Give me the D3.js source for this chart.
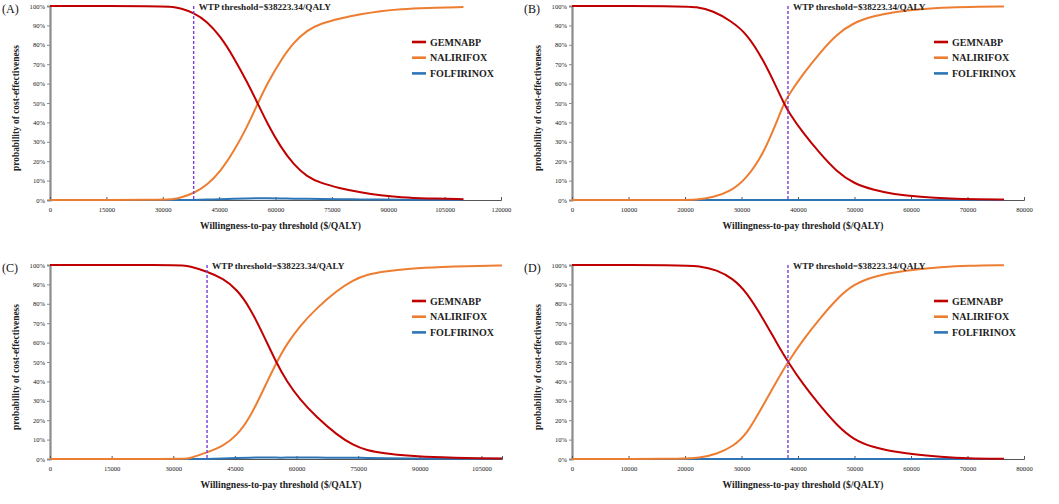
<!DOCTYPE html>
<html>
<head>
<meta charset="utf-8">
<script src="https://cdn.jsdelivr.net/npm/d3@7"></script>
<style>
body { margin: 0; background: #fff; }
svg { display: block; }
text { font-family: "Liberation Serif", "Times New Roman", serif; }
</style>
</head>
<body>
<svg id="chart" width="1059" height="504"></svg>
<script>
// Chart data
var wtp = 38223.34;
var seriesNames = ["GEMNABP", "NALIRIFOX", "FOLFIRINOX"];
var panelLabels = ["(A)", "(B)", "(C)", "(D)"];
var yTicks = [0, 10, 20, 30, 40, 50, 60, 70, 80, 90, 100];

var xTicksA = [0, 15000, 30000, 45000, 60000, 75000, 90000, 105000, 120000];
var xTicksB = [0, 10000, 20000, 30000, 40000, 50000, 60000, 70000, 80000];
var xTicksC = [0, 15000, 30000, 45000, 60000, 75000, 90000, 105000];
var xTicksD = [0, 10000, 20000, 30000, 40000, 50000, 60000, 70000, 80000];
var xMaxA = 120000, xMaxB = 80000, xMaxC = 110000, xMaxD = 80000;

// panel A
var wtpA = [0, 30000, 32900, 34700, 38222, 41800, 45300, 48900, 52400, 55100, 57800, 61300, 64900, 68400, 72000, 77300, 82700, 88000, 93300, 100000, 110000];
var gemA = [100, 100, 99.6, 98.8, 96.6, 92, 84.5, 73.5, 61, 50.5, 39.5, 27.5, 18, 12, 8.7, 6, 3.9, 2.3, 1.4, 0.8, 0.4];
var nalA = [0, 0, 0.4, 1.2, 3.4, 7.7, 14.6, 25, 37.5, 49, 60, 71.8, 81.4, 87.5, 91, 93.7, 95.8, 97.4, 98.4, 99, 99.5];
var folA = [0, 0, 0, 0, 0, 0.2, 0.4, 0.6, 0.8, 0.9, 0.9, 0.8, 0.7, 0.6, 0.5, 0.4, 0.3, 0.2, 0.1, 0.1, 0.1];

// panel B
var wtpB = [0, 19100, 22000, 25000, 28000, 30900, 33900, 36200, 37400, 38300, 40900, 43900, 46900, 49800, 53300, 56900, 61600, 67000, 72000, 76446];
var gemB = [100, 100, 99.6, 97.5, 92.5, 86, 72, 58, 50.5, 45.5, 34.5, 24, 14.5, 8.6, 5.2, 3, 1.5, 0.7, 0.4, 0.2];
var nalB = [0, 0, 0, 1.4, 4.3, 11, 24, 40, 49, 54, 65, 76, 85.5, 91.4, 94.8, 96.9, 98.5, 99.3, 99.6, 99.8];
var folB = [0, 0, 0, 0, 0, 0, 0, 0, 0, 0, 0, 0, 0, 0, 0, 0, 0, 0, 0, 0];

// panel C
var wtpC = [0, 29200, 32500, 34100, 38140, 42190, 45440, 48680, 51920, 55000, 57610, 60850, 64910, 69780, 73830, 77070, 81130, 87620, 95000, 105000, 110000];
var gemC = [100, 100, 99.8, 99.3, 96.7, 93, 87.5, 78, 64, 50, 40, 30.5, 21.5, 12.5, 7, 4.5, 3, 1.6, 0.8, 0.3, 0.2];
var nalC = [0, 0, 0, 0.4, 3.3, 6.8, 12, 21.3, 35.7, 49.3, 59.3, 68.7, 77.8, 86.8, 92.3, 95, 96.6, 98.2, 99, 99.6, 99.7];
var folC = [0, 0, 0, 0, 0, 0.2, 0.5, 0.7, 0.8, 0.7, 0.7, 0.8, 0.7, 0.7, 0.7, 0.5, 0.4, 0.2, 0.2, 0.1, 0.1];

// panel D
var wtpD = [0, 19100, 22600, 25600, 28500, 30900, 33900, 36200, 38223, 40900, 43900, 46900, 49800, 53300, 56900, 61600, 65000, 70000, 76446];
var gemD = [100, 100, 99.5, 97.5, 93, 86, 72, 60, 50, 38.5, 27.5, 17.3, 10, 6, 3.8, 2, 1.2, 0.3, 0.1];
var nalD = [0, 0, 0.5, 2.5, 6.5, 12.5, 28, 40, 50, 61.5, 72.5, 82.7, 90, 94, 96.2, 98, 98.8, 99.7, 99.9];
var folD = [0, 0, 0, 0, 0, 0, 0, 0, 0, 0, 0, 0, 0, 0, 0, 0, 0, 0, 0];

var colors = ["#c00000", "#ed7d31", "#2e75b6"];

// layout of the four panels
var boxes = [
   {left: 50, top: 6, width: 451, height: 194},
   {left: 572, top: 6, width: 452, height: 194},
   {left: 50, top: 265, width: 452, height: 194},
   {left: 572, top: 265, width: 452, height: 194}
];

var panels = [
   {x: wtpA, ys: [gemA, nalA, folA], ticks: xTicksA, max: xMaxA},
   {x: wtpB, ys: [gemB, nalB, folB], ticks: xTicksB, max: xMaxB},
   {x: wtpC, ys: [gemC, nalC, folC], ticks: xTicksC, max: xMaxC},
   {x: wtpD, ys: [gemD, nalD, folD], ticks: xTicksD, max: xMaxD}
];

var svg = d3.select("#chart");
svg.append("rect").attr("width", 1059).attr("height", 504).attr("fill", "#fff");

panels.forEach(function(p, i) {
   var b = boxes[i];
   var g = svg.append("g").attr("transform", "translate(" + b.left + "," + b.top + ")");

   var x = d3.scaleLinear().domain([0, p.max]).range([0, b.width]);
   var y = d3.scaleLinear().domain([0, 100]).range([b.height, 0]);

   // y axis
   var yAxis = g.append("g")
      .call(d3.axisLeft(y).tickValues(yTicks).tickSize(3).tickFormat(function(d) { return d + "%"; }));
   yAxis.select(".domain").attr("stroke", "#8c8c8c").attr("stroke-width", 2.2);
   yAxis.selectAll(".tick line").attr("stroke", "#8c8c8c");
   yAxis.selectAll(".tick text").attr("x", -5).attr("font-size", 6.6).attr("fill", "#222")
      .style("font-family", "'Liberation Serif', serif");

   // x axis
   var xAxis = g.append("g").attr("transform", "translate(0," + b.height + ")")
      .call(d3.axisBottom(x).tickValues(p.ticks).tickSize(-3).tickSizeOuter(-3).tickFormat(d3.format("d")));
   xAxis.select(".domain").attr("stroke", "#555").attr("stroke-width", 1);
   xAxis.selectAll(".tick line").attr("stroke", "#555");
   xAxis.selectAll(".tick text").attr("y", 7).attr("font-size", 6.6).attr("fill", "#222")
      .style("font-family", "'Liberation Serif', serif");

   // curves (smoothed like the spreadsheet's smoothed lines)
   var line = d3.line()
      .x(function(d) { return x(d[0]); })
      .y(function(d) { return y(d[1]); })
      .curve(d3.curveBasis);
   [2, 1, 0].forEach(function(k) {
      var pts = p.x.map(function(v, j) { return [v, p.ys[k][j]]; });
      g.append("path")
         .attr("d", line(pts))
         .attr("fill", "none")
         .attr("stroke", colors[k])
         .attr("stroke-width", 2);
   });

   // WTP threshold
   g.append("line")
      .attr("x1", x(wtp)).attr("x2", x(wtp))
      .attr("y1", 0).attr("y2", b.height)
      .attr("stroke", "#7a3fd8").attr("stroke-width", 1.4)
      .attr("stroke-dasharray", "3,2");
   g.append("text")
      .attr("x", x(wtp) + 5).attr("y", 3.5)
      .attr("font-size", 9.2).attr("font-weight", "bold").attr("fill", "#222")
      .text("WTP threshold=$38223.34/QALY");

   // legend
   seriesNames.forEach(function(name, k) {
      var ly = 36 + k * 15.7;
      g.append("line")
         .attr("x1", 362).attr("x2", 376).attr("y1", ly).attr("y2", ly)
         .attr("stroke", colors[k]).attr("stroke-width", 2.6);
      g.append("text")
         .attr("x", 380).attr("y", ly + 3.6)
         .attr("font-size", 10).attr("font-weight", "bold").attr("fill", "#222")
         .text(name);
   });

   // axis titles
   g.append("text")
      .attr("x", b.width / 2 + 5).attr("y", b.height + 28.5)
      .attr("text-anchor", "middle")
      .attr("font-size", 9.6).attr("font-weight", "bold").attr("fill", "#222")
      .text("Willingness-to-pay threshold ($/QALY)");
   g.append("text")
      .attr("transform", "translate(-31," + (b.height / 2 + 5) + ") rotate(-90)")
      .attr("text-anchor", "middle")
      .attr("font-size", 9.4).attr("font-weight", "bold").attr("fill", "#222")
      .text("probability of cost-effectiveness");

   // panel label
   g.append("text")
      .attr("x", -48).attr("y", 7)
      .attr("font-size", 12).attr("fill", "#111")
      .text(panelLabels[i]);
});
</script>
</body>
</html>
